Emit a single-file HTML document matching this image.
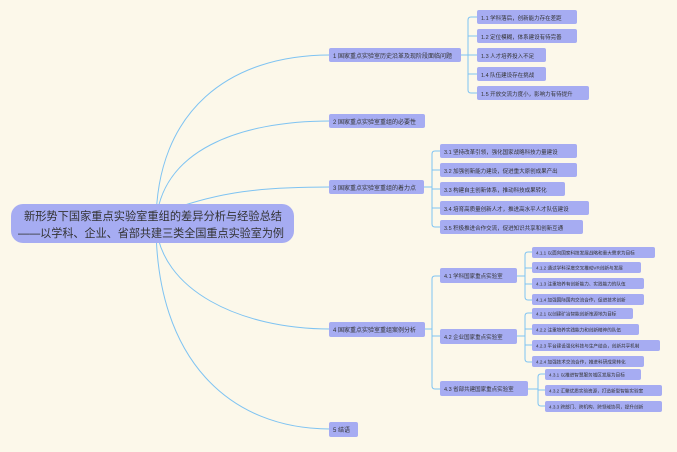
<!DOCTYPE html>
<html><head><meta charset="utf-8"><style>
html,body{margin:0;padding:0;background:#fcf8ea;}
svg{display:block}
text{font-family:"Liberation Sans","Noto Sans CJK SC",sans-serif;fill:#333;}
</style></head><body>
<svg width="677" height="452" viewBox="0 0 677 452">
<rect width="677" height="452" fill="#fcf8ea"/>
<g fill="none" stroke="#7ec3f2" stroke-width="1">
<path d="M156,224 C156,110 230,55 330,55"/>
<path d="M156,224 C160,150 240,121 330,121"/>
<path d="M170,210 C220,192 260,187 330,187"/>
<path d="M156,224 C160,290 240,329 330,329"/>
<path d="M156,224 C156,360 230,429 330,429"/>
<path d="M461,55 H468 M477,17 H471 Q468,17 468,20 V90 Q468,93 471,93 H477 M468,36 H477 M468,55 H477 M468,74 H477"/>
<path d="M424,187 H432 M440,151 H435 Q432,151 432,154 V224 Q432,227 435,227 H440 M432,170 H440 M432,189 H440 M432,208 H440"/>
<path d="M425,329 H432 M440,276 H435 Q432,276 432,279 V386 Q432,389 435,389 H440 M432,336 H440"/>
<path d="M517,276 H525 M532,252 H528 Q525,252 525,255 V297 Q525,300 528,300 H532 M525,268 H532 M525,284 H532"/>
<path d="M517,336 H525 M532,313 H528 Q525,313 525,316 V359 Q525,362 528,362 H532 M525,329 H532 M525,345 H532"/>
<path d="M528,389 H538 M545,374 H541 Q538,374 538,377 V403 Q538,406 541,406 H545 M538,390 H545"/>
</g>
<g fill="#a6acf2">
<rect x="11" y="204" width="283" height="39" rx="12"/>
<rect x="329" y="48" width="132" height="14" rx="2"/>
<rect x="329" y="114" width="96" height="14" rx="2"/>
<rect x="329" y="180" width="95" height="14" rx="2"/>
<rect x="329" y="322" width="96" height="15" rx="2"/>
<rect x="329" y="422" width="29" height="15" rx="2"/>
<rect x="477" y="10" width="100" height="14" rx="2"/>
<rect x="477" y="29" width="100" height="14" rx="2"/>
<rect x="477" y="48" width="69" height="14" rx="2"/>
<rect x="477" y="67" width="69" height="14" rx="2"/>
<rect x="477" y="86" width="112" height="14" rx="2"/>
<rect x="440" y="144" width="137" height="14" rx="2"/>
<rect x="440" y="163" width="137" height="14" rx="2"/>
<rect x="440" y="182" width="125" height="14" rx="2"/>
<rect x="440" y="201" width="149" height="14" rx="2"/>
<rect x="440" y="220" width="143" height="14" rx="2"/>
<rect x="440" y="268" width="77" height="15" rx="2"/>
<rect x="440" y="329" width="77" height="15" rx="2"/>
<rect x="440" y="381" width="88" height="15" rx="2"/>
<rect x="532" y="247" width="123" height="11" rx="2"/>
<rect x="532" y="262" width="109" height="11" rx="2"/>
<rect x="532" y="278" width="112" height="11" rx="2"/>
<rect x="532" y="294" width="112" height="11" rx="2"/>
<rect x="532" y="308" width="101" height="11" rx="2"/>
<rect x="532" y="324" width="107" height="11" rx="2"/>
<rect x="532" y="340" width="128" height="11" rx="2"/>
<rect x="532" y="356" width="112" height="11" rx="2"/>
<rect x="545" y="369" width="96" height="11" rx="2"/>
<rect x="545" y="385" width="117" height="11" rx="2"/>
<rect x="545" y="401" width="117" height="11" rx="2"/>
</g>
<text x="24" y="220" font-size="11.5" textLength="258" lengthAdjust="spacingAndGlyphs">新形势下国家重点实验室重组的差异分析与经验总结</text>
<text x="18" y="237" font-size="11.5" textLength="266" lengthAdjust="spacingAndGlyphs">——以学科、企业、省部共建三类全国重点实验室为例</text>
<g font-size="6">
<text x="333" y="58">1  国家重点实验室历史沿革及现阶段面临问题</text>
<text x="333" y="124">2  国家重点实验室重组的必要性</text>
<text x="333" y="190">3  国家重点实验室重组的着力点</text>
<text x="333" y="332">4  国家重点实验室重组案例分析</text>
<text x="333" y="432">5  结语</text>
</g>
<g font-size="5.5">
<text x="481" y="20">1.1  学科落后，创新能力存在差距</text>
<text x="481" y="39">1.2  定位模糊，体系建设有待完善</text>
<text x="481" y="58">1.3  人才培养投入不足</text>
<text x="481" y="77">1.4  队伍建设存在挑战</text>
<text x="481" y="96">1.5  开放交流力度小，影响力有待提升</text>
<text x="444" y="154">3.1  坚持改革引领，强化国家战略科技力量建设</text>
<text x="444" y="173">3.2  加强创新能力建设，促进重大原创成果产出</text>
<text x="444" y="192">3.3  构建自主创新体系，推动科技成果转化</text>
<text x="444" y="211">3.4  培育高质量创新人才，推进高水平人才队伍建设</text>
<text x="444" y="230">3.5  积极推进合作交流，促进知识共享和创新互通</text>
<text x="444" y="278">4.1  学科国家重点实验室</text>
<text x="444" y="339">4.2  企业国家重点实验室</text>
<text x="444" y="391">4.3  省部共建国家重点实验室</text>
</g>
<g font-size="4.6">
<text x="536" y="254.5">4.1.1  以面向国家科技发展战略和重大需求为目标</text>
<text x="536" y="269.5">4.1.2  通过学科深度交叉推动VR创新与发展</text>
<text x="536" y="285.5">4.1.3  注重培养有创新能力、实践能力的队伍</text>
<text x="536" y="301.5">4.1.4  加强国际国内交流合作，促进技术创新</text>
<text x="536" y="315.5">4.2.1  以创建矿冶智能创新策源地为目标</text>
<text x="536" y="331.5">4.2.2  注重培养实践能力和创新精神的队伍</text>
<text x="536" y="347.5">4.2.3  平台建设强化科技与生产结合，创新共享机制</text>
<text x="536" y="363.5">4.2.4  加强技术交流合作，推进科研成果转化</text>
<text x="549" y="376.5">4.3.1  以推进智慧服务城区发展为目标</text>
<text x="549" y="392.5">4.3.2  汇聚优质实验资源，打造新型智能实验室</text>
<text x="549" y="408.5">4.3.3  跨部门、跨机构、跨领域协同，提升创新</text>
</g>
</svg>
</body></html>
